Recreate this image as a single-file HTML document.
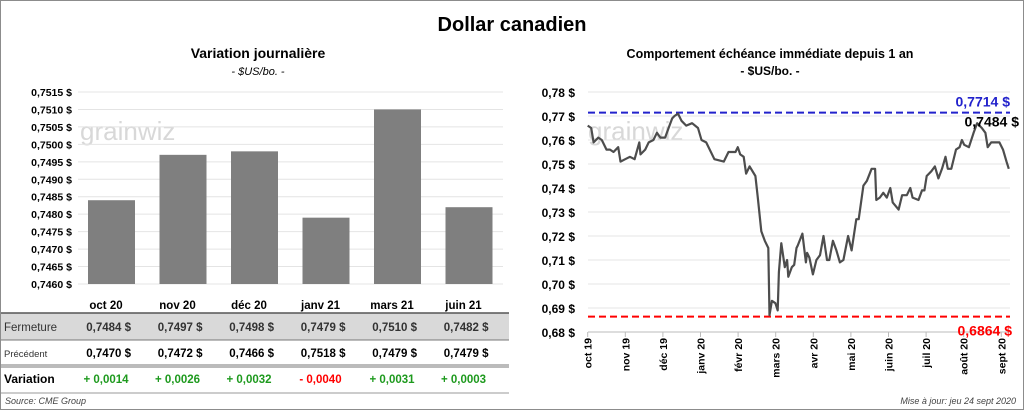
<!DOCTYPE html>
<html><head><meta charset="utf-8"><style>
body{margin:0;background:#fff;}
svg{display:block;font-family:"Liberation Sans",sans-serif;}
</style></head><body>
<svg id="c" width="1024" height="410" viewBox="0 0 1024 410">
<rect x="0.5" y="0.5" width="1023" height="409" fill="#fff" stroke="#8c8c8c"/>
<text x="512" y="31" text-anchor="middle" font-size="20" font-weight="bold">Dollar canadien</text>
<text x="258" y="58" text-anchor="middle" font-size="14" font-weight="bold">Variation  journalière</text>
<text x="258" y="75" text-anchor="middle" font-size="11" font-style="italic">- $US/bo. -</text>
<text x="770" y="58" text-anchor="middle" font-size="12.5" font-weight="bold">Comportement échéance immédiate depuis 1 an</text>
<text x="770" y="75" text-anchor="middle" font-size="12" font-weight="bold">- $US/bo. -</text>
<text x="80" y="140" font-size="26" fill="#d8d8d8">grainwiz</text>
<text x="588" y="140" font-size="26" fill="#d8d8d8">grainwiz</text>
<g id="left"></g>
<g id="right"></g>
<g id="table"></g>
<text x="5" y="404" font-size="9" font-style="italic" fill="#444">Source: CME Group</text>
<text x="1016" y="404" text-anchor="end" font-size="9" font-style="italic" fill="#444">Mise à jour: jeu 24 sept 2020</text>
</svg>
<script>
const NS="http://www.w3.org/2000/svg";
function mk(p,t,a,txt){const e=document.createElementNS(NS,t);for(const k in a)e.setAttribute(k,a[k]);if(txt!==undefined)e.textContent=txt;p.appendChild(e);return e;}

// Left bar chart data
const barCats=["oct 20","nov 20","déc 20","janv 21","mars 21","juin 21"];
const barClose=[0.7484,0.7497,0.7498,0.7479,0.7510,0.7482];
const barPrev=[0.7470,0.7472,0.7466,0.7518,0.7479,0.7479];
const barVar=[0.0014,0.0026,0.0032,-0.0040,0.0031,0.0003];
const leftTicks=[0.7460,0.7465,0.7470,0.7475,0.7480,0.7485,0.7490,0.7495,0.7500,0.7505,0.7510,0.7515];

// Right line chart data
const lineDays=[0,3,5,9,12,16,19,22,26,28,32,36,40,44,45,49,52,56,59,62,66,69,72,74,77,80,84,89,94,97,101,108,116,120,126,128,130,133,135,138,143,145,148,151,154,155,157,160,162,163,165,168,170,171,174,176,178,179,183,186,187,189,192,195,198,201,204,206,209,212,215,218,222,225,229,231,235,238,242,245,246,249,252,255,258,260,265,268,272,275,277,282,285,287,289,293,296,299,302,305,307,310,314,317,319,321,325,329,332,336,339,341,344,347,351,354,357,359];
const lineVals=[0.766,0.765,0.759,0.761,0.760,0.756,0.756,0.755,0.757,0.751,0.752,0.753,0.752,0.759,0.754,0.756,0.759,0.760,0.763,0.761,0.761,0.765,0.769,0.770,0.771,0.768,0.766,0.767,0.765,0.760,0.759,0.752,0.751,0.755,0.755,0.757,0.754,0.753,0.746,0.749,0.745,0.736,0.722,0.718,0.715,0.687,0.693,0.692,0.689,0.705,0.717,0.707,0.710,0.703,0.707,0.708,0.715,0.716,0.721,0.709,0.713,0.711,0.704,0.710,0.712,0.720,0.710,0.710,0.718,0.714,0.709,0.710,0.720,0.714,0.727,0.727,0.741,0.743,0.748,0.748,0.735,0.736,0.738,0.736,0.740,0.734,0.731,0.737,0.737,0.740,0.736,0.735,0.739,0.739,0.745,0.747,0.749,0.744,0.748,0.753,0.748,0.748,0.756,0.757,0.760,0.758,0.757,0.763,0.767,0.765,0.763,0.757,0.759,0.759,0.759,0.756,0.751,0.748];
const rightTicks=[0.68,0.69,0.70,0.71,0.72,0.73,0.74,0.75,0.76,0.77,0.78];
const monthLabels=["oct 19","nov 19","déc 19","janv 20","févr 20","mars 20","avr 20","mai 20","juin 20","juil 20","août 20","sept 20"];
const highVal=0.7714, lowVal=0.6864, lastVal=0.7484;

const fmt=(v,d)=>v.toFixed(d).replace(".",",");

// Left chart
const L=document.getElementById("left");
const ly=v=>284-(v-0.7460)/(0.7515-0.7460)*192;
const bx=i=>88+i*71.5;
leftTicks.forEach(t=>{
 const g=mk(L,"line",{x1:78,x2:503,y1:ly(t),y2:ly(t),stroke:"#e4e4e4"});
 
 
 const tx=mk(L,"text",{x:72,y:ly(t)+4,"text-anchor":"end","font-size":"10.5","font-weight":"bold"},fmt(t,4)+" $");
 
 
});
barClose.forEach((v,i)=>{
 const r=mk(L,"rect",{x:bx(i),y:ly(v),width:47,height:284-ly(v),fill:"#7f7f7f"});
 
 
});

// Table
const T=document.getElementById("table");
const cx=i=>bx(i)+23;
mk(T,"rect",{x:1,y:313,width:508,height:27,fill:"#d9d9d9",});
mk(T,"line",{x1:1,x2:509,y1:313,y2:313,stroke:"#555","stroke-width":"1.5",});
mk(T,"line",{x1:1,x2:509,y1:340,y2:340,stroke:"#777",});
mk(T,"line",{x1:1,x2:509,y1:365,y2:365,stroke:"#777",});
mk(T,"line",{x1:1,x2:509,y1:367,y2:367,stroke:"#777",});
mk(T,"line",{x1:1,x2:509,y1:393,y2:393,stroke:"#999",});
mk(T,"text",{x:4,y:331,"font-size":"11.5",fill:"#333",},"Fermeture");
mk(T,"text",{x:4,y:357,"font-size":"9.5",fill:"#333",},"Précédent");
mk(T,"text",{x:4,y:383,"font-size":"12","font-weight":"bold",},"Variation");
barCats.forEach((c,i)=>{
 const h=mk(T,"text",{x:cx(i)-5,y:309,"text-anchor":"middle","font-size":"11.5","font-weight":"bold"},c);
 
 
 const f=mk(T,"text",{x:cx(i)+20,y:331,"text-anchor":"end","font-size":"11.5","font-weight":"bold",fill:"#333","xml:space":"preserve"},fmt(barClose[i],4)+"  $");
 
 
 const p=mk(T,"text",{x:cx(i)+20,y:357,"text-anchor":"end","font-size":"11.5","font-weight":"bold","xml:space":"preserve"},fmt(barPrev[i],4)+"  $");
 
 
 const d=barVar[i];
 const vt=(d>=0?"+ ":"- ")+fmt(Math.abs(d),4);
 const v=mk(T,"text",{x:cx(i)-5,y:383,"text-anchor":"middle","font-size":"11.5","font-weight":"bold",fill:d>=0?"#1e9a1e":"#ff0000"},vt);
 
 
});

// Right chart
const R=document.getElementById("right");
const ry=v=>92+(0.78-v)/0.10*240;
const mx=m=>587.7+m*37.6;
const dx=d=>mx(d/359*11.2);
rightTicks.forEach(t=>{
 const g=mk(R,"line",{x1:588,x2:1010,y1:ry(t),y2:ry(t),stroke:"#e4e4e4"});
 
 
 const tx=mk(R,"text",{x:575,y:ry(t)+5,"text-anchor":"end","font-size":"12","font-weight":"bold"},fmt(t,2)+" $");
 
 
});
mk(R,"line",{x1:588,x2:1010,y1:ry(0.68),y2:ry(0.68),stroke:"#bbb",});
monthLabels.forEach((m,i)=>{
 const tk=mk(R,"line",{x1:mx(i),x2:mx(i),y1:ry(0.68),y2:ry(0.68)+5,stroke:"#bbb"});
 
 
 const x=mx(i)+4,y=ry(0.68)+6;
 const tx=mk(R,"text",{x:x,y:y,"text-anchor":"end","font-size":"10.5","font-weight":"bold",transform:`rotate(-90 ${x} ${y})`},m);
 
 
});
const hl=mk(R,"line",{x1:588,x2:1010,y1:ry(highVal),y2:ry(highVal),stroke:"#2222cc","stroke-width":"2","stroke-dasharray":"7,4"});


const ll=mk(R,"line",{x1:588,x2:1010,y1:ry(lowVal),y2:ry(lowVal),stroke:"#ff0000","stroke-width":"2","stroke-dasharray":"7,4"});


const pts=lineDays.map((d,i)=>dx(d).toFixed(1)+","+ry(lineVals[i]).toFixed(1)).join(" ");
const pl=mk(R,"polyline",{points:pts,fill:"none",stroke:"#4d4d4d","stroke-width":"2.2","stroke-linejoin":"round"});


const ht=mk(R,"text",{x:1010,y:ry(highVal)-6,"text-anchor":"end","font-size":"14","font-weight":"bold",fill:"#2222cc"},fmt(highVal,4)+" $");


const lt=mk(R,"text",{x:1012,y:ry(lowVal)+19,"text-anchor":"end","font-size":"14","font-weight":"bold",fill:"#ff0000"},fmt(lowVal,4)+" $");


const la=mk(R,"text",{x:1019,y:ry(0.7647)-2,"text-anchor":"end","font-size":"14","font-weight":"bold"},fmt(lastVal,4)+" $");


</script>
</body></html>
